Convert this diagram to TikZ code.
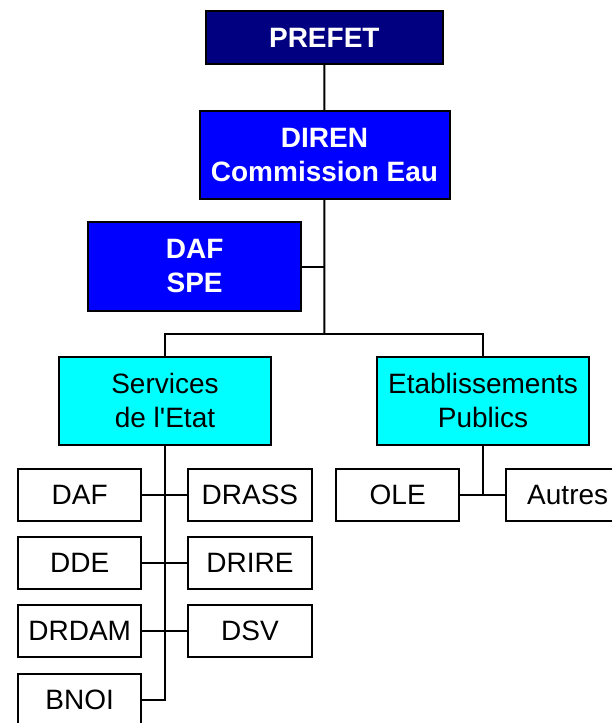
\documentclass[tikz,border=0pt]{standalone}
\usepackage{fontspec}
\setmainfont{Liberation Sans}
\usetikzlibrary{positioning}
\definecolor{navyblue}{RGB}{0,0,128}
\definecolor{pureblue}{RGB}{0,0,255}
\definecolor{purecyan}{RGB}{0,255,255}

\begin{document}
\begin{tikzpicture}[x=1pt,y=1pt,line width=2pt,node distance=16.3pt and 46.7pt]
    \tikzstyle{box}=[draw=black,outer sep=0pt,align=center,font=\fontsize{28}{34}\selectfont]
    \tikzstyle{chief}=[box,text=white,font=\bfseries\fontsize{28}{34}\selectfont]
    \tikzstyle{branch}=[box,fill=purecyan,minimum width=212pt,minimum height=87.7pt]
    \tikzstyle{unit}=[box,fill=white,minimum width=123.5pt,minimum height=52pt]
    \useasboundingbox (0,0) rectangle (612,-723);
    % upper levels
    \node[chief,fill=navyblue,minimum width=236.6pt,minimum height=53.6pt] (prefet) at (324.3,-37.5) {PREFET};
    \node[chief,fill=pureblue,minimum width=250pt,minimum height=88.3pt]  (diren)  at (324.5,-154.8) {DIREN\\Commission Eau};
    \node[chief,fill=pureblue,minimum width=212.8pt,minimum height=88.4pt] (dafspe) at (194.6,-266.5) {DAF\\SPE};
    \node[branch] (services) at (165,-400.8) {Services\\de l\textquotesingle Etat};
    \node[branch] (etab)     at (483,-400.8) {Etablissements\\Publics};
    \coordinate (hub) at (324.3,-333.7);
    % services de l'Etat
    \node[unit] (daf)   at (79.7,-494.7) {DAF};
    \node[unit] (dde)   [below=of daf]   {DDE};
    \node[unit] (drdam) [below=of dde]   {DRDAM};
    \node[unit] (bnoi)  [below=of drdam] {BNOI};
    \node[unit] (drass) [right=of daf]   {DRASS};
    \node[unit] (drire) [right=of dde]   {DRIRE};
    \node[unit] (dsv)   [right=of drdam] {DSV};
    % etablissements publics
    \node[unit] (ole)    at (397.7,-494.7)      {OLE};
    \node[unit] (autres) [right=46.5pt of ole]  {Autres};
    % connectors
    \draw (prefet) -- (diren);
    \draw (diren) -- (hub);
    \draw (dafspe.east) -- (dafspe.east -| hub);
    \draw (services.north) |- (hub) -| (etab.north);
    \draw (services.south) |- (bnoi.east);
    \draw (daf) -- (drass);
    \draw (dde) -- (drire);
    \draw (drdam) -- (dsv);
    \draw (etab.south) -- (etab.south |- ole.east);
    \draw (ole) -- (autres);
\end{tikzpicture}
\end{document}
